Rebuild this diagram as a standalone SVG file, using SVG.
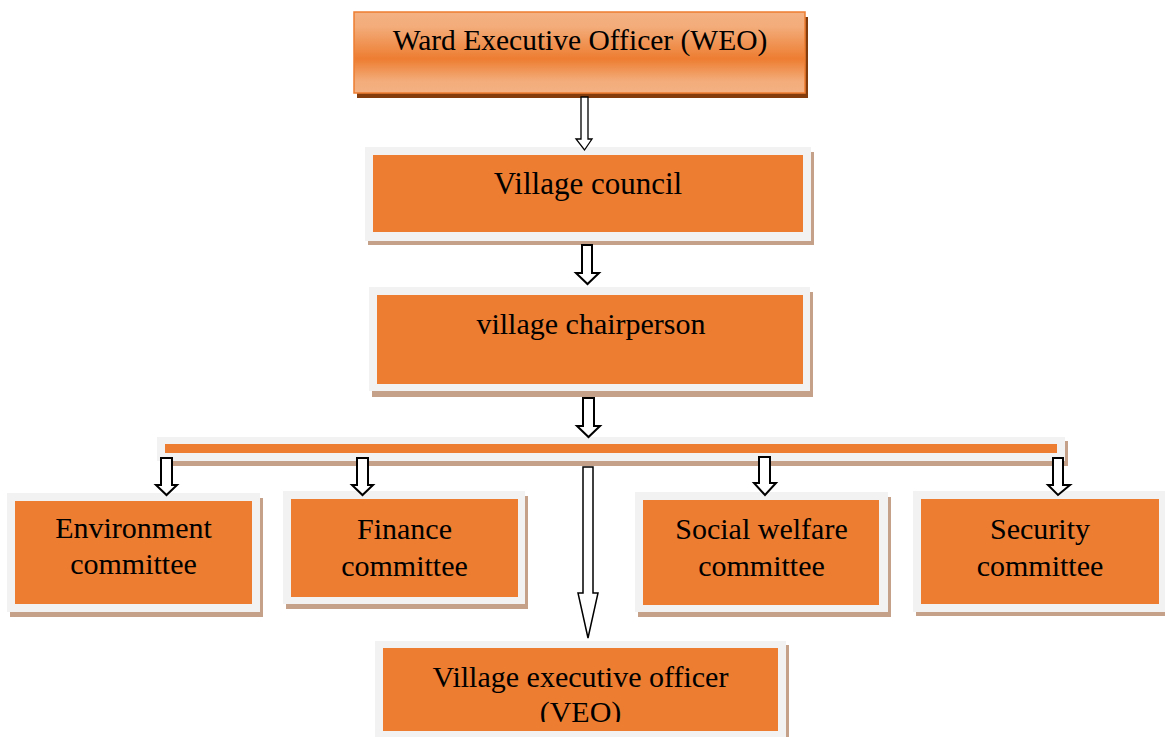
<svg xmlns="http://www.w3.org/2000/svg" width="1165" height="737" viewBox="0 0 1165 737">
<defs>
<linearGradient id="weoGrad" x1="0" y1="0" x2="0" y2="1">
<stop offset="0" stop-color="#f4b183"/>
<stop offset="0.18" stop-color="#f3ac7a"/>
<stop offset="0.58" stop-color="#ed7d31"/>
<stop offset="0.85" stop-color="#f3ac7a"/>
<stop offset="1" stop-color="#f4b183"/>
</linearGradient>
<clipPath id="veoClip"><rect x="383" y="648" width="395" height="74"/></clipPath>
</defs>
<style>
.shadow{fill:#c6a18a}
.frame{fill:#f2f2f2}
.inner{fill:#ed7d31}
.lbl{font-family:"Liberation Serif","Times New Roman",serif;font-size:30px;fill:#000;text-anchor:middle}
.arrow{fill:#ffffff;stroke:#000;stroke-width:2;stroke-linejoin:miter}
</style>
<rect width="1165" height="737" fill="#ffffff"/>

<g id="weo">
<rect x="357" y="17" width="451" height="81" fill="#843c0c"/>
<rect x="354" y="12" width="451" height="81" fill="url(#weoGrad)" stroke="#ed7d31" stroke-width="1.5"/>
<text class="lbl" x="580" y="50" style="font-size:29.5px">Ward Executive Officer (WEO)</text>
</g>

<g id="village-council">
<rect class="shadow" x="368" y="152" width="446" height="93"/>
<rect class="frame" x="365" y="147" width="446" height="94"/>
<rect class="inner" x="373" y="155" width="430" height="77"/>
<text class="lbl" x="588" y="194" style="font-size:31px">Village council</text>
</g>

<g id="village-chairperson">
<rect class="shadow" x="372" y="292" width="441" height="105"/>
<rect class="frame" x="369" y="287" width="441" height="104"/>
<rect class="inner" x="377" y="295" width="426" height="89"/>
<text class="lbl" x="591" y="334">village chairperson</text>
</g>

<g id="bar">
<rect class="shadow" x="160" y="441" width="908" height="25"/>
<rect class="frame" x="157" y="437" width="908" height="24"/>
<rect class="inner" x="165" y="444" width="892" height="9"/>
</g>

<g id="environment-committee">
<rect class="shadow" x="10" y="498" width="253" height="119"/>
<rect class="frame" x="7" y="493" width="253" height="119"/>
<rect class="inner" x="15" y="501" width="237" height="103"/>
<text class="lbl" x="133.5" y="538">Environment</text>
<text class="lbl" x="133.5" y="574">committee</text>
</g>

<g id="finance-committee">
<rect class="shadow" x="286" y="496" width="242" height="113"/>
<rect class="frame" x="283" y="491" width="242" height="113"/>
<rect class="inner" x="291" y="499" width="227" height="98"/>
<text class="lbl" x="404.5" y="539">Finance</text>
<text class="lbl" x="404.5" y="576">committee</text>
</g>

<g id="social-welfare-committee">
<rect class="shadow" x="638" y="497" width="253" height="120"/>
<rect class="frame" x="635" y="492" width="253" height="120"/>
<rect class="inner" x="643" y="500" width="236" height="105"/>
<text class="lbl" x="761.5" y="539">Social welfare</text>
<text class="lbl" x="761.5" y="576">committee</text>
</g>

<g id="security-committee">
<rect class="shadow" x="916" y="496" width="252" height="120"/>
<rect class="frame" x="913" y="491" width="252" height="121"/>
<rect class="inner" x="921" y="499" width="238" height="105"/>
<text class="lbl" x="1040" y="539">Security</text>
<text class="lbl" x="1040" y="576">committee</text>
</g>

<g id="veo">
<rect class="shadow" x="378" y="645" width="411" height="97"/>
<rect class="frame" x="375" y="641" width="411" height="96"/>
<rect class="inner" x="383" y="648" width="395" height="83"/>
<g clip-path="url(#veoClip)">
<text class="lbl" x="580.5" y="687">Village executive officer</text>
<text class="lbl" x="580.5" y="722">(VEO)</text>
</g>
</g>

<g id="connectors">
<path class="arrow" style="stroke-width:1.3" d="M581,97 H588 V139 H592 L584.5,150 L576,139 H581 Z"/>
<path class="arrow" d="M582,245 H592 V273 H599 L587.5,284 L576,273 H582 Z"/>
<path class="arrow" d="M583,398 H594 V426 H600 L588.5,437 L577,426 H583 Z"/>
<path class="arrow" style="stroke-width:1.5" d="M583,467 H593 V593 H598 L588,638 L578,593 H583 Z"/>
<path class="arrow" d="M161,458 H172 V485 H177 L166.5,495 L156,485 H161 Z"/>
<path class="arrow" d="M357,458 H368 V485 H373 L362.5,495 L352,485 H357 Z"/>
<path class="arrow" d="M759,457 H770 V483 H776 L765,495 L754,483 H759 Z"/>
<path class="arrow" d="M1053,458 H1063 V485 H1070 L1058,495 L1048,485 H1053 Z"/>
</g>
</svg>
